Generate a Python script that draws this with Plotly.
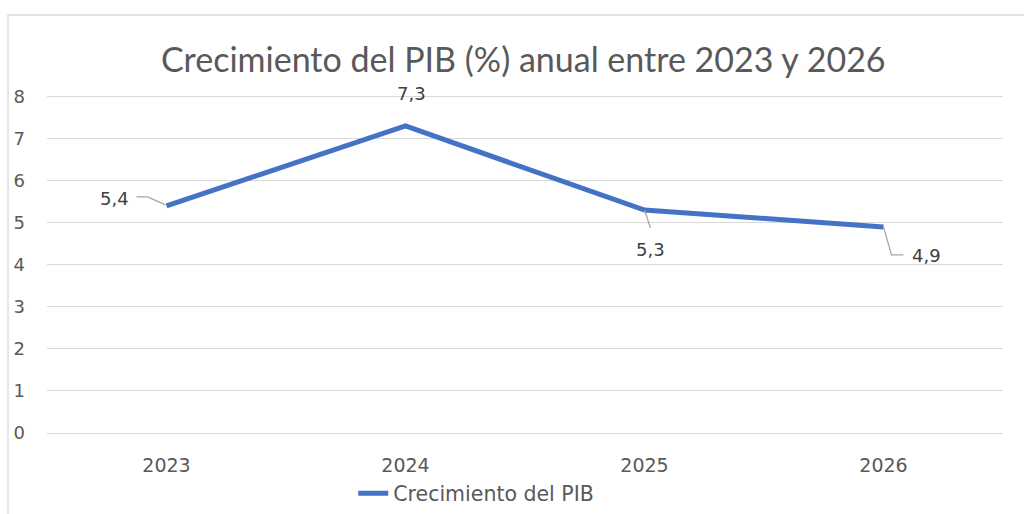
import plotly.graph_objects as go

years = ["2023", "2024", "2025", "2026"]
growth = [5.4, 7.3, 5.3, 4.9]
labels = ["5,4", "7,3", "5,3", "4,9"]
y_ticks = [0, 1, 2, 3, 4, 5, 6, 7, 8]

TFONT = "Lato"
FONT = "DejaVu Sans"
BLUE = "#4472C4"
GRID = "#D9D9D9"
TXT = "#595959"
LBL = "#404040"

fig = go.Figure()
fig.add_trace(go.Scatter(
    x=years, y=growth, mode="lines", name="Crecimiento del PIB",
    line=dict(color=BLUE, width=5), showlegend=True,
))

# data label offsets (pixels) relative to each point
label_shift = [(-52, 7), (6, 32), (6, -39), (43, -29)]
for i, (yv, t, (dx, dy)) in enumerate(zip(growth, labels, label_shift)):
    fig.add_annotation(x=i, y=yv, xref="x", yref="y", text=t, showarrow=False,
                       xshift=dx, yshift=dy,
                       font=dict(family=FONT, size=18, color=LBL))

# leader lines (pixel paths anchored at data points)
leader_paths = {0: "M -30 9 L -19 9 L -1 1", 2: "M 0 0 L 6 -18", 3: "M 0 0 L 8 -28 L 20 -28"}
for i, p in leader_paths.items():
    fig.add_shape(type="path", xref="x", yref="y", xsizemode="pixel", ysizemode="pixel",
                  xanchor=i, yanchor=growth[i], path=p,
                  line=dict(color="#A6A6A6", width=1.3))

# chart border
fig.add_shape(type="rect", xref="paper", yref="paper", x0=-0.0408, x1=1.1, y0=-0.3, y1=1.233,
              line=dict(color=GRID, width=1.3), layer="below")

fig.update_layout(
    width=1024, height=514,
    margin=dict(l=47, r=21, t=94, b=81, autoexpand=False),
    paper_bgcolor="white", plot_bgcolor="white",
    title=dict(text="Crecimiento del PIB (%) anual entre 2023 y 2026", x=0.511, xanchor="center",
               y=0.883, yanchor="middle", font=dict(family=TFONT, size=34, color=TXT)),
    font=dict(family=FONT, color=TXT),
    xaxis=dict(type="category", range=[-0.5, 3.5], showgrid=False, showline=False,
               zeroline=False, ticks="",
               tickfont=dict(family=FONT, size=19, color=TXT), ticklabelstandoff=19),
    yaxis=dict(range=[0, 8.06], tickvals=y_ticks, showgrid=True, gridcolor=GRID, gridwidth=1.3,
               zeroline=True, zerolinecolor=GRID, zerolinewidth=1.3, showline=False, ticks="",
               tickfont=dict(family=FONT, size=18, color=TXT), ticklabelstandoff=21),
    legend=dict(orientation="h", x=0.449, xanchor="center", y=-0.178, yanchor="middle",
                font=dict(family=FONT, size=20.5, color=TXT)),
    showlegend=True,
)

fig.write_html("out.html", config={"displayModeBar": False},
               post_script="document.body.style.margin='0';")
